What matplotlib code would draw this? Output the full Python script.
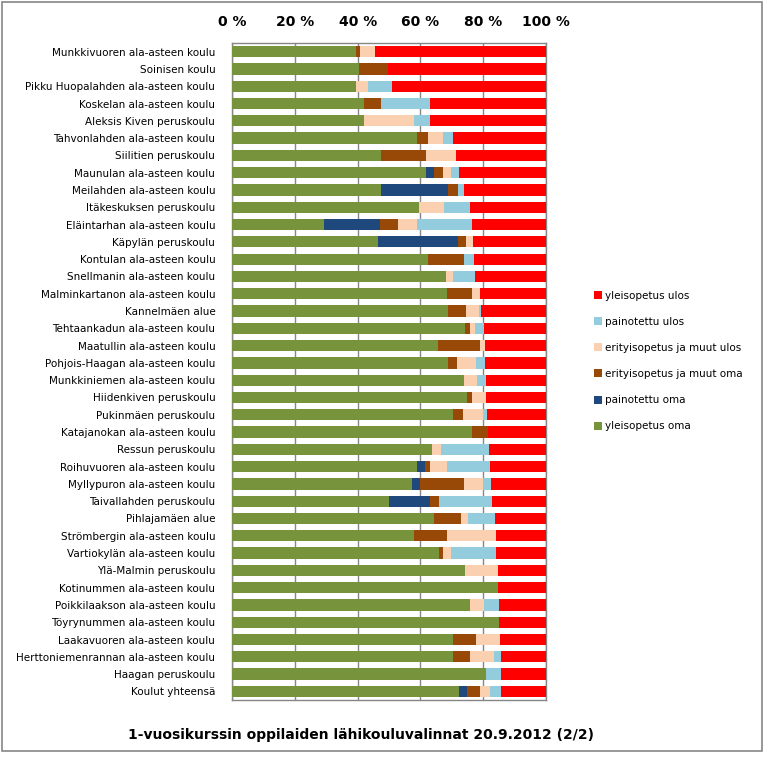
import matplotlib
matplotlib.use("Agg")
import matplotlib.pyplot as plt
import numpy as np
from matplotlib.patches import Rectangle

# Schools, top to bottom as drawn
schools = [
    "Munkkivuoren ala-asteen koulu", "Soinisen koulu",
    "Pikku Huopalahden ala-asteen koulu", "Koskelan ala-asteen koulu",
    "Aleksis Kiven peruskoulu", "Tahvonlahden ala-asteen koulu",
    "Siilitien peruskoulu", "Maunulan ala-asteen koulu",
    "Meilahden ala-asteen koulu", "Itäkeskuksen peruskoulu",
    "Eläintarhan ala-asteen koulu", "Käpylän peruskoulu",
    "Kontulan ala-asteen koulu", "Snellmanin ala-asteen koulu",
    "Malminkartanon ala-asteen koulu", "Kannelmäen alue",
    "Tehtaankadun ala-asteen koulu", "Maatullin ala-asteen koulu",
    "Pohjois-Haagan ala-asteen koulu", "Munkkiniemen ala-asteen koulu",
    "Hiidenkiven peruskoulu", "Pukinmäen peruskoulu",
    "Katajanokan ala-asteen koulu", "Ressun peruskoulu",
    "Roihuvuoren ala-asteen koulu", "Myllypuron ala-asteen koulu",
    "Taivallahden peruskoulu", "Pihlajamäen alue",
    "Strömbergin ala-asteen koulu", "Vartiokylän ala-asteen koulu",
    "Ylä-Malmin peruskoulu", "Kotinummen ala-asteen koulu",
    "Poikkilaakson ala-asteen koulu", "Töyrynummen ala-asteen koulu",
    "Laakavuoren ala-asteen koulu", "Herttoniemenrannan ala-asteen koulu",
    "Haagan peruskoulu", "Koulut yhteensä",
]

# Shares in percent
yleis_oma = [39.4, 40.5, 39.6, 42.0, 42.0, 59.0, 47.5, 61.8, 47.5, 59.7,
             29.4, 46.6, 62.5, 68.2, 68.5, 68.8, 74.2, 65.6, 68.8, 73.9,
             74.9, 70.4, 76.5, 63.7, 59.0, 57.4, 50.1, 64.4, 58.0, 66.0,
             74.2, 84.7, 75.8, 85.0, 70.4, 70.4, 80.9, 72.3]
painot_oma = [0, 0, 0, 0, 0, 0, 0, 2.6, 21.3, 0,
              17.8, 25.4, 0, 0, 0, 0, 0, 0, 0, 0,
              0, 0, 0, 0, 2.5, 2.5, 13.0, 0, 0, 0,
              0, 0, 0, 0, 0, 0, 0, 2.6]
erit_oma = [1.4, 9.3, 0, 5.5, 0, 3.5, 14.3, 2.8, 3.2, 0,
            5.7, 2.5, 11.4, 0, 8.0, 5.7, 1.6, 13.4, 2.9, 0,
            1.6, 3.2, 5.0, 0, 1.6, 14.0, 2.9, 8.6, 10.5, 1.2,
            0, 0, 0, 0, 7.3, 5.4, 0, 4.1]
erit_ulos = [4.8, 0, 3.8, 0, 16.0, 4.7, 9.5, 2.6, 0, 7.8,
             6.1, 2.3, 0, 2.2, 2.5, 4.2, 1.6, 1.6, 6.0, 4.1,
             4.4, 6.4, 0, 2.9, 5.4, 6.1, 0, 2.2, 15.6, 2.6,
             10.5, 0, 4.5, 0, 7.7, 7.7, 0, 3.2]
painot_ulos = [0, 0, 7.5, 15.5, 5.0, 3.1, 0, 2.4, 1.9, 8.3,
               17.5, 0, 3.2, 7.0, 0, 0.6, 2.9, 0, 2.9, 2.9,
               0, 1.2, 0, 15.3, 13.7, 2.5, 16.8, 8.6, 0, 14.3,
               0, 0, 4.7, 0, 0, 2.2, 4.8, 3.5]
yleis_ulos = [54.4, 50.2, 49.1, 37.0, 37.0, 29.7, 28.7, 27.8, 26.1, 24.2,
              23.5, 23.2, 22.9, 22.6, 21.0, 20.7, 19.7, 19.4, 19.4, 19.1,
              19.1, 18.8, 18.5, 18.1, 17.8, 17.5, 17.2, 16.2, 15.9, 15.9,
              15.3, 15.3, 15.0, 15.0, 14.6, 14.3, 14.3, 14.3]

series = [
    ("yleisopetus oma", yleis_oma, "#77933C"),
    ("painotettu oma", painot_oma, "#1F497D"),
    ("erityisopetus ja muut oma", erit_oma, "#984807"),
    ("erityisopetus ja muut ulos", erit_ulos, "#FAD0B0"),
    ("painotettu ulos", painot_ulos, "#93CDDD"),
    ("yleisopetus ulos", yleis_ulos, "#FF0000"),
]

fig = plt.figure(figsize=(7.64, 7.60), dpi=100)
ax = fig.add_axes([0.3037, 0.0789, 0.411, 0.8645])

y = np.arange(len(schools))
left = np.zeros(len(schools))
handles = []
for name, vals, color in series:
    vals = np.array(vals, dtype=float)
    b = ax.barh(y, vals, left=left, height=0.65, color=color, label=name,
                zorder=3)
    handles.append(b)
    left += vals

ax.set_xlim(0, 100)
ax.set_ylim(len(schools) - 0.5, -0.5)
ax.set_yticks(y)
ax.set_yticklabels(schools, fontsize=7.5)
ax.tick_params(axis="y", length=0, pad=12)
ax.xaxis.tick_top()
ax.set_xticks(range(0, 101, 20))
ax.set_xticklabels([f"{v} %" for v in range(0, 101, 20)],
                   fontsize=10, fontweight="bold")
ax.tick_params(axis="x", length=0, pad=10)
ax.grid(axis="x", color="#868686", linewidth=1, zorder=0)
for s in ax.spines.values():
    s.set_color("#868686")
    s.set_linewidth(1)

fig.legend(handles[::-1], [s[0] for s in series][::-1],
           loc="upper left", bbox_to_anchor=(0.765, 0.630),
           frameon=False, fontsize=7.5, labelspacing=1.55,
           handlelength=0.8, handleheight=0.8, handletextpad=0.3)

fig.text(0.473, 0.033, "1-vuosikurssin oppilaiden lähikouluvalinnat 20.9.2012 (2/2)",
         ha="center", va="center", fontsize=10, fontweight="bold")

# outer chart frame
fig.patches.append(Rectangle((0.002, 0.012), 0.995, 0.986,
                             transform=fig.transFigure, fill=False,
                             edgecolor="#868686", linewidth=1.2))

fig.savefig("out.png", dpi=100)
